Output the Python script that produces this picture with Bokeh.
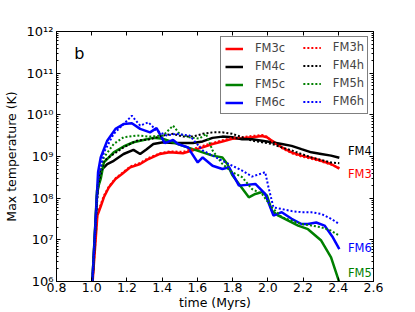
from bokeh.plotting import figure
from bokeh.models import (Range1d, FixedTicker, LinearAxis, LogAxis, Legend, LegendItem,
                          Label, CustomJSTickFormatter, PrintfTickFormatter)
from bokeh.embed import file_html
from bokeh.resources import INLINE

# ---------------- data ----------------
t_fm3c = [1.0, 1.032, 1.051, 1.069, 1.097, 1.135, 1.172, 1.219, 1.275, 1.322, 1.387, 1.443,
          1.518, 1.574, 1.630, 1.686, 1.742, 1.798, 1.854, 1.910, 1.967, 1.995, 2.023, 2.079,
          2.135, 2.191, 2.247, 2.303, 2.359, 2.406]
T_fm3c = [5e5, 3.8e7, 6.3e7, 1.05e8, 1.8e8, 2.9e8, 3.8e8, 5.5e8, 6.6e8, 8.7e8, 1.15e9, 1.26e9,
          1.2e9, 1.4e9, 1.66e9, 2.0e9, 2.3e9, 2.65e9, 2.75e9, 2.9e9, 3.1e9, 2.9e9, 2.4e9, 1.66e9,
          1.26e9, 1.05e9, 9.3e8, 7.9e8, 6.6e8, 5.1e8]

t_fm3h = t_fm3c
T_fm3h = [5e5, 4.2e7, 7.0e7, 1.15e8, 1.9e8, 3.0e8, 4.0e8, 5.8e8, 7.0e8, 9.2e8, 1.2e9, 1.32e9,
          1.3e9, 1.5e9, 1.8e9, 2.1e9, 2.45e9, 2.8e9, 2.9e9, 3.1e9, 3.3e9, 3.0e9, 2.3e9, 1.6e9,
          1.2e9, 1.0e9, 8.8e8, 7.6e8, 6.4e8, 5.3e8]

t_fm4c = [1.0, 1.030, 1.051, 1.088, 1.125, 1.181, 1.237, 1.275, 1.312, 1.350, 1.406, 1.462,
          1.518, 1.574, 1.630, 1.686, 1.742, 1.798, 1.854, 1.910, 1.967, 2.023, 2.079, 2.135,
          2.191, 2.247, 2.303, 2.359, 2.406]
T_fm4c = [5e5, 1.15e8, 4.6e8, 6.6e8, 7.9e8, 1.15e9, 1.44e9, 1.15e9, 1.5e9, 2.0e9, 2.2e9, 2.1e9,
          2.1e9, 2.1e9, 2.3e9, 2.8e9, 3.0e9, 2.9e9, 2.6e9, 2.6e9, 2.4e9, 2.2e9, 2.0e9, 1.8e9,
          1.5e9, 1.26e9, 1.15e9, 1.05e9, 9.3e8]

t_fm4h = [1.0, 1.036, 1.069, 1.125, 1.181, 1.256, 1.331, 1.406, 1.462, 1.518, 1.574, 1.630,
          1.686, 1.742, 1.798, 1.854, 1.910, 1.967, 2.023, 2.079, 2.135, 2.191, 2.247, 2.303,
          2.359, 2.406]
T_fm4h = [5e5, 2.0e8, 7.9e8, 1.15e9, 1.66e9, 2.4e9, 2.6e9, 3.2e9, 3.5e9, 3.0e9, 3.0e9, 3.5e9,
          3.8e9, 3.8e9, 3.5e9, 2.9e9, 2.4e9, 2.2e9, 2.0e9, 1.66e9, 1.4e9, 1.15e9, 9.5e8, 8.3e8,
          7.2e8, 6.9e8]

t_fm5c = [1.0, 1.030, 1.051, 1.069, 1.097, 1.125, 1.181, 1.237, 1.294, 1.350, 1.406, 1.462,
          1.518, 1.574, 1.630, 1.686, 1.742, 1.770, 1.798, 1.836, 1.892, 1.929, 1.967, 1.995,
          2.023, 2.060, 2.116, 2.172, 2.228, 2.303, 2.359, 2.406]
T_fm5c = [5e5, 1.5e8, 2.9e8, 7.2e8, 9.5e8, 1.26e9, 1.74e9, 2.2e9, 2.5e9, 2.8e9, 2.65e9, 2.2e9,
          1.8e9, 1.5e9, 1.26e9, 1.05e9, 9.5e8, 6.6e8, 3.6e8, 2.2e8, 1.05e8, 1.26e8, 1.4e8, 1.15e8,
          5.0e7, 3.8e7, 2.9e7, 2.2e7, 1.8e7, 9.6e6, 3.8e6, 9.5e5]

t_fm5h = [1.0, 1.036, 1.069, 1.125, 1.181, 1.256, 1.331, 1.406, 1.462, 1.499, 1.555, 1.612,
          1.649, 1.686, 1.742, 1.798, 1.854, 1.910, 1.967, 2.023, 2.079, 2.135, 2.191, 2.247,
          2.303, 2.359, 2.406]
T_fm5h = [5e5, 2.6e8, 9.5e8, 2.0e9, 2.9e9, 3.2e9, 3.0e9, 3.2e9, 5.5e9, 3.5e9, 2.9e9, 2.7e9,
          3.5e9, 1.4e9, 6.6e8, 4.2e8, 3.2e8, 1.66e8, 1.26e8, 6.0e7, 3.5e7, 2.9e7, 2.4e7, 2.2e7,
          2.0e7, 1.66e7, 1.26e7]

t_fm6c = [1.0, 1.036, 1.051, 1.088, 1.135, 1.181, 1.228, 1.275, 1.331, 1.368, 1.415, 1.462,
          1.490, 1.546, 1.602, 1.630, 1.686, 1.742, 1.780, 1.836, 1.929, 1.985, 2.032, 2.079,
          2.135, 2.191, 2.228, 2.275, 2.322, 2.369, 2.406]
T_fm6c = [5e5, 4.2e8, 9.5e8, 2.4e9, 4.6e9, 6.0e9, 6.3e9, 4.6e9, 3.8e9, 4.8e9, 2.1e9, 2.5e9,
          2.0e9, 1.66e9, 7.2e8, 9.5e8, 6.0e8, 5.0e8, 5.5e8, 2.0e8, 2.2e8, 1.26e8, 3.8e7, 4.6e7,
          3.2e7, 2.4e7, 2.4e7, 2.6e7, 2.2e7, 1.15e7, 6.0e6]

t_fm6h = [1.0, 1.036, 1.069, 1.125, 1.181, 1.228, 1.275, 1.322, 1.368, 1.424, 1.480, 1.555,
          1.630, 1.686, 1.742, 1.798, 1.854, 1.910, 1.985, 2.004, 2.032, 2.079, 2.135, 2.191,
          2.247, 2.303, 2.359, 2.406]
T_fm6h = [5e5, 2.6e8, 1.26e9, 3.5e9, 6.0e9, 9.5e9, 5.5e9, 6.6e9, 4.2e9, 3.2e9, 3.5e9, 3.2e9,
          1.4e9, 1.05e9, 7.9e8, 6.0e8, 4.6e8, 3.3e8, 4.2e8, 1.8e8, 6.0e7, 5.5e7, 4.9e7, 4.6e7,
          4.6e7, 4.2e7, 3.2e7, 2.4e7]

x_ticks = [0.8, 1.0, 1.2, 1.4, 1.6, 1.8, 2.0, 2.2, 2.4, 2.6]
y_ticks = [1e6, 1e7, 1e8, 1e9, 1e10, 1e11, 1e12]
y_minor = [m * 10.0 ** e for e in range(6, 12) for m in range(2, 10)]

FONT = "DejaVu Sans"

# ---------------- figure ----------------
p = figure(width=415, height=312, y_axis_type="log",
           x_range=Range1d(0.8, 2.6), y_range=Range1d(1e6, 1e12),
           output_backend="svg", toolbar_location=None,
           min_border_left=52, min_border_right=42, min_border_top=31, min_border_bottom=31)
p.xgrid.grid_line_color = None
p.ygrid.grid_line_color = None
p.outline_line_color = "black"
p.outline_line_width = 1
p.background_fill_color = "white"
p.border_fill_color = "white"

xt = FixedTicker(ticks=x_ticks)
yt = FixedTicker(ticks=y_ticks, minor_ticks=y_minor)

sup_js = """
const sup = {"0":"\u2070","1":"\u00b9","2":"\u00b2","3":"\u00b3","4":"\u2074","5":"\u2075",
             "6":"\u2076","7":"\u2077","8":"\u2078","9":"\u2079","-":"\u207b"};
const e = Math.round(Math.log10(tick));
return "10" + String(e).split("").map(c => sup[c]).join("");
"""


def style_axis(ax, minor=True, labels=True, size="12.5px"):
    ax.axis_line_color = "black"
    ax.major_tick_in = 4
    ax.major_tick_out = 0
    ax.minor_tick_in = 2
    ax.minor_tick_out = 0
    ax.major_tick_line_color = "black"
    ax.minor_tick_line_color = "black" if minor else None
    ax.major_label_text_font = FONT
    ax.major_label_text_font_size = size
    ax.axis_label_text_font = FONT
    ax.axis_label_text_font_size = "12.5px"
    ax.axis_label_text_font_style = "normal"
    ax.axis_label_text_color = "black"
    if labels:
        ax.major_label_text_color = "black"
    else:
        ax.major_label_text_color = None
        ax.major_label_standoff = 0


xa = p.xaxis[0]
xa.ticker = xt
xa.formatter = PrintfTickFormatter(format="%.1f")
style_axis(xa, minor=False)
xa.major_label_standoff = 1
xa.axis_label = "time (Myrs)"
xa.axis_label_standoff = 0

ya = p.yaxis[0]
ya.ticker = yt
ya.formatter = CustomJSTickFormatter(code=sup_js)
style_axis(ya, minor=True, size="13px")
ya.major_label_standoff = 3
ya.axis_label = "Max temperature (K)"
ya.axis_label_standoff = 5

top = LinearAxis(ticker=xt, formatter=PrintfTickFormatter(format="%.1f"))
style_axis(top, minor=False, labels=False, size="8px")
p.add_layout(top, "above")

right = LogAxis(ticker=yt, formatter=PrintfTickFormatter(format=""))
style_axis(right, minor=True, labels=False, size="8px")
p.add_layout(right, "right")

# ---------------- lines ----------------
RED, BLACK, GREEN, BLUE = "#ff0000", "#000000", "#008000", "#0000ff"
solid = dict(line_width=2.5)
dotted = dict(line_width=2, line_dash="2 2")

r3c = p.line(t_fm3c, T_fm3c, line_color=RED, **solid)
r4c = p.line(t_fm4c, T_fm4c, line_color=BLACK, **solid)
r5c = p.line(t_fm5c, T_fm5c, line_color=GREEN, **solid)
r6c = p.line(t_fm6c, T_fm6c, line_color=BLUE, **solid)
r3h = p.line(t_fm3h, T_fm3h, line_color=RED, **dotted)
r4h = p.line(t_fm4h, T_fm4h, line_color=BLACK, **dotted)
r5h = p.line(t_fm5h, T_fm5h, line_color=GREEN, **dotted)
r6h = p.line(t_fm6h, T_fm6h, line_color=BLUE, **dotted)

# ---------------- legend (two columns) ----------------
leg_common = dict(location="top_right", spacing=4,
                  glyph_width=18, glyph_height=13, label_height=13, label_standoff=12,
                  label_text_font=FONT, label_text_font_size="11.5px")
leg1 = Legend(items=[LegendItem(label="FM3c", renderers=[r3c]),
                     LegendItem(label="FM4c", renderers=[r4c]),
                     LegendItem(label="FM5c", renderers=[r5c]),
                     LegendItem(label="FM6c", renderers=[r6c])],
              margin=5, padding=4, label_width=108,
              border_line_color="black", border_line_width=1,
              background_fill_color="white", background_fill_alpha=1.0, **leg_common)
leg2 = Legend(items=[LegendItem(label="FM3h", renderers=[r3h]),
                     LegendItem(label="FM4h", renderers=[r4h]),
                     LegendItem(label="FM5h", renderers=[r5h]),
                     LegendItem(label="FM6h", renderers=[r6h])],
              margin=3, padding=6, label_width=20,
              border_line_alpha=0, background_fill_alpha=0, **leg_common)
p.add_layout(leg1)
p.add_layout(leg2)

# ---------------- text annotations ----------------
for txt, yv, col in [("FM4", 1.32e9, BLACK), ("FM3", 3.9e8, RED),
                     ("FM6", 6.2e6, BLUE), ("FM5", 1.56e6, GREEN)]:
    p.add_layout(Label(x=2.455, y=yv, text=txt, text_color=col, text_font=FONT,
                       text_font_size="11.5px", text_align="left", text_baseline="middle"))

p.add_layout(Label(x=0.901, y=2.95e11, text="b", text_color="black", text_font=FONT,
                   text_font_size="16px", text_align="left", text_baseline="alphabetic"))

open("out.html", "w").write(file_html(p, INLINE))
